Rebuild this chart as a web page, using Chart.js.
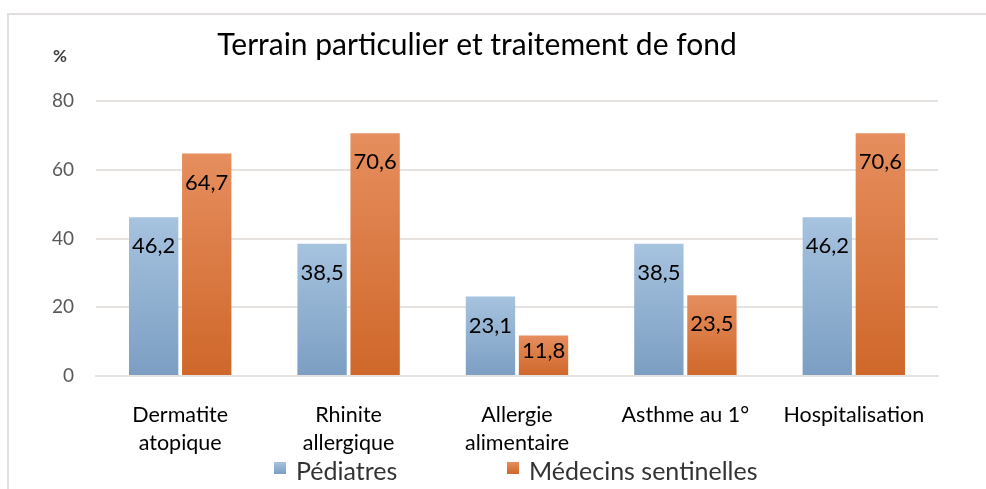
<!DOCTYPE html>
<html>
<head>
<meta charset="utf-8">
<script src="https://cdn.jsdelivr.net/npm/chart.js@4.4.1/dist/chart.umd.min.js"></script>
<style>
html, body { margin: 0; padding: 0; background: #fff; overflow: hidden; }
#wrap { position: absolute; left: 7px; top: 13px; width: 977px; height: 474px;
        border-left: 2px solid #e2dede; border-top: 2px solid #e2dede; }
</style>
</head>
<body>
<div id="wrap"><canvas id="graph"></canvas></div>
<script>
// data
const categories = [['Dermatite', 'atopique'], ['Rhinite', 'allergique'], ['Allergie', 'alimentaire'], 'Asthme au 1°', 'Hospitalisation'];
const pediatres = [46.2, 38.5, 23.1, 38.5, 46.2];
const medecins = [64.7, 70.6, 11.8, 23.5, 70.6];
const yTicks = [0, 20, 40, 60, 80];
const seriesNames = ['Pédiatres', 'Médecins sentinelles'];

const FONT = 'Lato';
const blue = ['#a6c3df', '#7b9ec2'];
const orange = ['#e68e5e', '#cf672a'];

const barGradient = (c, cols) => {
    const chart = c.chart;
    if (!chart.chartArea || c.type !== 'data') return cols[0];
    const ys = chart.scales.y;
    const top = ys.getPixelForValue(c.raw);
    const bottom = ys.getPixelForValue(0);
    const g = chart.ctx.createLinearGradient(0, top, 0, bottom);
    g.addColorStop(0, cols[0]);
    g.addColorStop(1, cols[1]);
    return g;
};

// title, "%" label, value labels and legend
const extras = {
    id: 'extras',
    afterDatasetsDraw(chart) {
        const ctx = chart.ctx;
        ctx.save();
        ctx.textAlign = 'center';
        ctx.textBaseline = 'middle';
        ctx.fillStyle = '#000';
        ctx.font = '22px ' + FONT;
        chart.data.datasets.forEach((ds, i) => {
            chart.getDatasetMeta(i).data.forEach((el, j) => {
                const h = el.base - el.y;
                const cy = el.y + Math.min(29, h / 2 - 4);
                ctx.fillText(ds.data[j].toFixed(1).replace('.', ','), el.x, cy);
            });
        });

        ctx.font = '30px ' + FONT;
        ctx.fillText('Terrain particulier et traitement de fond', 468, 30);

        ctx.font = 'bold 17px ' + FONT;
        ctx.fillStyle = '#404040';
        ctx.fillText('%', 51, 42);

        // legend
        const items = [[265, blue], [498, orange]];
        ctx.textAlign = 'left';
        ctx.font = '25px ' + FONT;
        items.forEach((it, i) => {
            const g = ctx.createLinearGradient(0, 447, 0, 459);
            g.addColorStop(0, it[1][0]);
            g.addColorStop(1, it[1][1]);
            ctx.fillStyle = g;
            ctx.fillRect(it[0], 447, 12, 12);
            ctx.fillStyle = '#333';
            ctx.fillText(seriesNames[i], it[0] + 22, 457);
        });
        ctx.restore();
    }
};

const ctx = document.getElementById('graph').getContext('2d');
const chart = new Chart(ctx, {
    type: 'bar',
    data: {
        labels: categories,
        datasets: [{
            label: seriesNames[0],
            data: pediatres,
            backgroundColor: c => barGradient(c, blue),
            categoryPercentage: 0.63,
            barPercentage: 0.93
        }, {
            label: seriesNames[1],
            data: medecins,
            backgroundColor: c => barGradient(c, orange),
            categoryPercentage: 0.63,
            barPercentage: 0.93
        }]
    },
    options: {
        responsive: true,
        maintainAspectRatio: false,
        animation: false,
        layout: { padding: { top: 86, right: 48, left: 0, bottom: 0 } },
        scales: {
            x: {
                grid: { display: false },
                border: { color: '#e6e2df', width: 2 },
                ticks: { color: '#000', font: { family: FONT, size: 21.5, lineHeight: 1.3 }, padding: 17, maxRotation: 0 },
                afterFit: s => { s.height = 113; }
            },
            y: {
                min: 0,
                max: 80,
                afterBuildTicks: s => { s.ticks = yTicks.map(v => ({ value: v })); },
                grid: { color: '#e6e2df', lineWidth: 2, drawTicks: false },
                border: { display: false },
                ticks: { color: '#595959', font: { family: FONT, size: 19 }, padding: 22 },
                afterFit: s => { s.width = 87; }
            }
        },
        plugins: {
            legend: { display: false },
            tooltip: { enabled: false }
        }
    },
    plugins: [extras]
});
</script>
</body>
</html>
